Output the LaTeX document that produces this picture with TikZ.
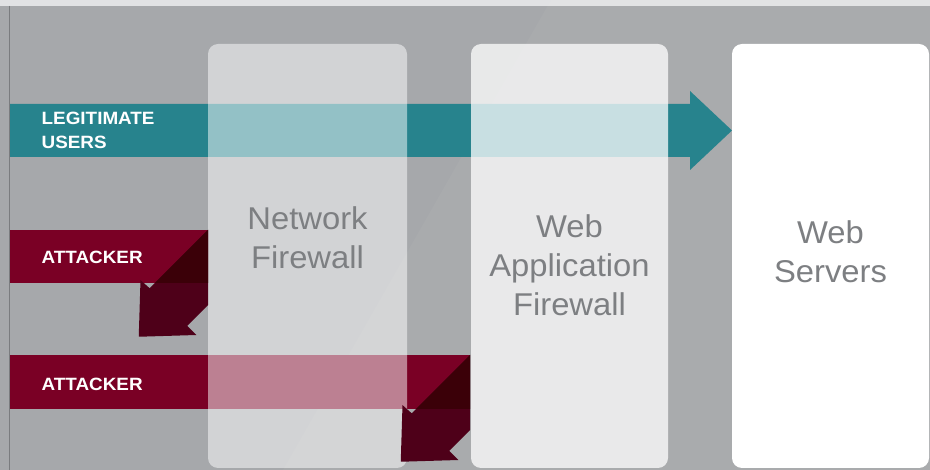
\documentclass[tikz,border=0pt]{standalone}
\usepackage{fontspec}
\setmainfont{Liberation Sans}
\newfontfamily\lblfont[FakeStretch=1.06]{Liberation Sans}
\newfontfamily\pnlfont[FakeStretch=1.04]{Liberation Sans}
\definecolor{bggray}{HTML}{A6A8AB}
\definecolor{topstrip}{HTML}{E1E2E4}
\definecolor{edgeline}{HTML}{7A7C7F}
\definecolor{tealbar}{HTML}{27838D}
\definecolor{atkred}{HTML}{7A0025}
\definecolor{atkarrow}{HTML}{4E0019}
\definecolor{atktri}{HTML}{3B0008}
\definecolor{paneltext}{HTML}{7D7F82}
\begin{document}
\begin{tikzpicture}[x=1pt,y=-1pt,
  panelbox/.style={rounded corners=10pt},
  barlabel/.style={anchor=west,inner sep=0pt,align=left,text=white,
    font=\lblfont\fontsize{17.8}{23.7}\selectfont\bfseries},
  paneltxt/.style={inner sep=0pt,align=center,text=paneltext,
    font=\pnlfont\fontsize{31.5}{39}\selectfont}]
\useasboundingbox (0,0) rectangle (930,470);
% background
\fill[bggray] (0,0) rectangle (930,470);
\fill[topstrip] (0,0) rectangle (930,6);
\fill[white,opacity=0.035] (551,0) -- (930,0) -- (930,470) -- (283,470) -- cycle;
\draw[edgeline,line width=1pt] (9.3,6) -- (9.3,470);
% bars
\fill[tealbar] (10,104) -- (690,104) -- (690,91) -- (732,130.5) -- (690,170) -- (690,157) -- (10,157) -- cycle;
\fill[atkred] (10,230) rectangle (208,283);
\fill[atkred] (10,355) rectangle (470,409);
% panels
\fill[white,opacity=0.5,panelbox] (208,44) rectangle (407,468);
\fill[white,opacity=0.75,panelbox] (471,44) rectangle (668,468);
\fill[white,panelbox] (732,44) rectangle (929,468);
% attacker arrows turned back
\fill[atkarrow] (208,230) -- (149.7,288.3) -- (140.5,280.1) -- (138.75,336.75)
  -- (196.4,335) -- (187.2,325.8) -- (208,305) -- cycle;
\fill[atktri] (208,230) -- (155,283) -- (208,283) -- cycle;
\fill[atkarrow] (470,355) -- (411.7,413.3) -- (402.5,405.1) -- (400.75,461.75)
  -- (458.4,460) -- (449.2,450.8) -- (470,430) -- cycle;
\fill[atktri] (470,355) -- (416,409) -- (470,409) -- cycle;
% labels
\node[barlabel] (legit) at (41.5,130.2) {LEGITIMATE\\USERS};
\node[barlabel] (atkone) at (41.5,257) {ATTACKER};
\node[barlabel] (atktwo) at (41.5,384) {ATTACKER};
\node[paneltxt] (nfw) at (307.5,237.3) {Network\\Firewall};
\node[paneltxt] (waf) at (569.5,265.7) {Web\\Application\\Firewall};
\node[paneltxt] (web) at (830.5,251.3) {Web\\Servers};
\end{tikzpicture}
\end{document}
